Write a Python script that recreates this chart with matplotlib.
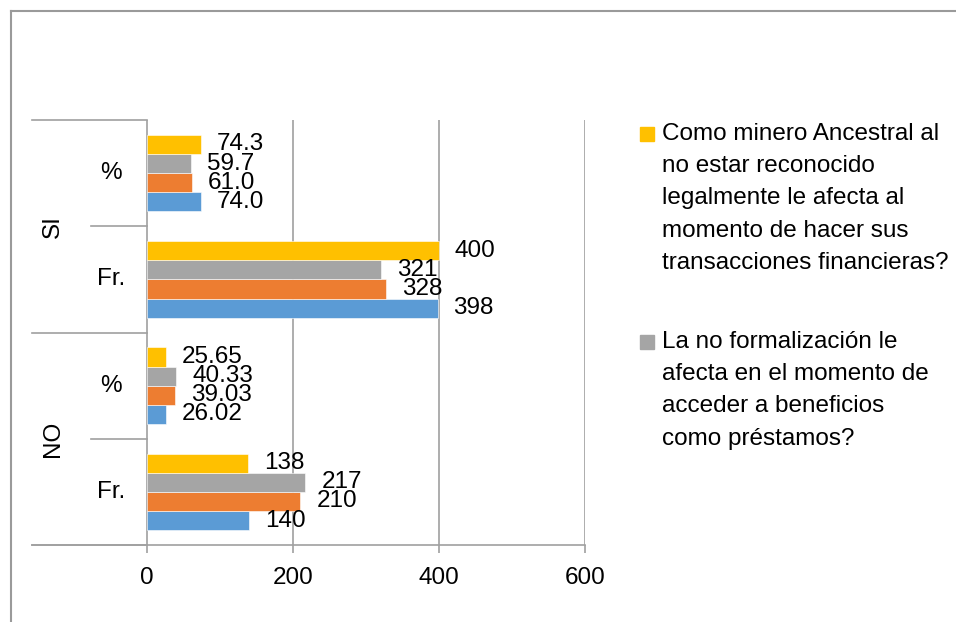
import matplotlib
matplotlib.use("Agg")
import matplotlib.pyplot as plt
from matplotlib.lines import Line2D
from matplotlib.patches import Rectangle

plt.rcParams['font.family'] = ['Liberation Sans', 'DejaVu Sans']

# categorias de abajo hacia arriba
categorias = ['Fr.', '%', 'Fr.', '%']
grupos = ['NO', 'SI']
formatos = ['{:.0f}', '{:.2f}', '{:.0f}', '{:.1f}']

serie_azul = [140, 26.02, 398, 74.0]
serie_naranja = [210, 39.03, 328, 61.0]
serie_gris = [217, 40.33, 321, 59.7]
serie_amarilla = [138, 25.65, 400, 74.3]

nombre_amarilla = ('Como minero Ancestral al\nno estar reconocido\nlegalmente le afecta al\n'
                   'momento de hacer sus\ntransacciones financieras?')
nombre_gris = ('La no formalización le\nafecta en el momento de\nacceder a beneficios\n'
               'como préstamos?')

ticks_x = [0, 200, 400, 600]

W, H = 956, 622
fig = plt.figure(figsize=(W / 100, H / 100), dpi=100)
fs = 17.5

# marco del grafico
fig.add_artist(Line2D([11 / W, 1], [1 - 11 / H, 1 - 11 / H], color='#9a9a9a', lw=1.5))
fig.add_artist(Line2D([11 / W, 11 / W], [0, 1 - 11 / H], color='#9a9a9a', lw=1.5))

# area de trazado: x de 32 a 585 px, y de 120 a 545 px
ax = fig.add_axes([32 / W, (H - 545) / H, (585 - 32) / W, (545 - 120) / H])
px_por_unidad = (585 - 147) / 600
x_min = -(147 - 32) / px_por_unidad
ax.set_xlim(x_min, 600)
ax.set_ylim(-0.5, 3.5)

series = [serie_azul, serie_naranja, serie_gris, serie_amarilla]
colores = ['#5B9BD5', '#ED7D31', '#A5A5A5', '#FFC000']
alto = 0.18
desplaz = [-0.27, -0.09, 0.09, 0.27]

for vals, color, d in zip(series, colores, desplaz):
    for i, v in enumerate(vals):
        ax.barh(i + d, v, height=alto, color=color, edgecolor='white', linewidth=0.4, zorder=3)
        ax.annotate(formatos[i].format(v), (v, i + d), xytext=(11.5, 0),
                    textcoords='offset points', ha='left', va='center',
                    fontsize=fs, color='black', zorder=4)

for s in ['top', 'right', 'left']:
    ax.spines[s].set_visible(False)
ax.spines['bottom'].set_color('#a0a0a0')
ax.spines['bottom'].set_linewidth(1.2)

ax.set_xticks(ticks_x)
ax.set_xticklabels([str(t) for t in ticks_x], fontsize=fs)
ax.tick_params(axis='x', length=6, color='#a0a0a0', width=1.2, pad=10)
ax.set_yticks([])

# lineas verticales (eje 0 y cuadricula)
for t in ticks_x:
    ax.axvline(t, ymin=0, ymax=1, color='#a0a0a0', lw=1.2, zorder=1)

# separadores de categorias
x_corto = -(147 - 91) / px_por_unidad
for yb in [-0.5, 1.5, 3.5]:
    ax.plot([x_min, 0], [yb, yb], color='#a0a0a0', lw=1.2, clip_on=False, zorder=2)
for yb in [0.5, 2.5]:
    ax.plot([x_corto, 0], [yb, yb], color='#a0a0a0', lw=1.2, clip_on=False, zorder=2)

# etiquetas de categorias
for i, c in enumerate(categorias):
    ax.text(x_corto + (0 - x_corto) * 0.36, i, c, ha='center', va='center', fontsize=fs)
for g, yc in zip(grupos, [0.5, 2.5]):
    ax.text(x_min + (x_corto - x_min) * 0.36, yc, g, ha='center', va='center',
            rotation=90, fontsize=fs)

# leyenda (solo las entradas visibles)
fig.add_artist(Rectangle((640 / W, 1 - 141 / H), 14 / W, 14 / H, color='#FFC000'))
fig.text(662 / W, 1 - 123 / H, nombre_amarilla, ha='left', va='top', fontsize=fs, linespacing=1.6)
fig.add_artist(Rectangle((640 / W, 1 - 349 / H), 14 / W, 14 / H, color='#A5A5A5'))
fig.text(662 / W, 1 - 331 / H, nombre_gris, ha='left', va='top', fontsize=fs, linespacing=1.6)

fig.savefig('out.png', dpi=100)
